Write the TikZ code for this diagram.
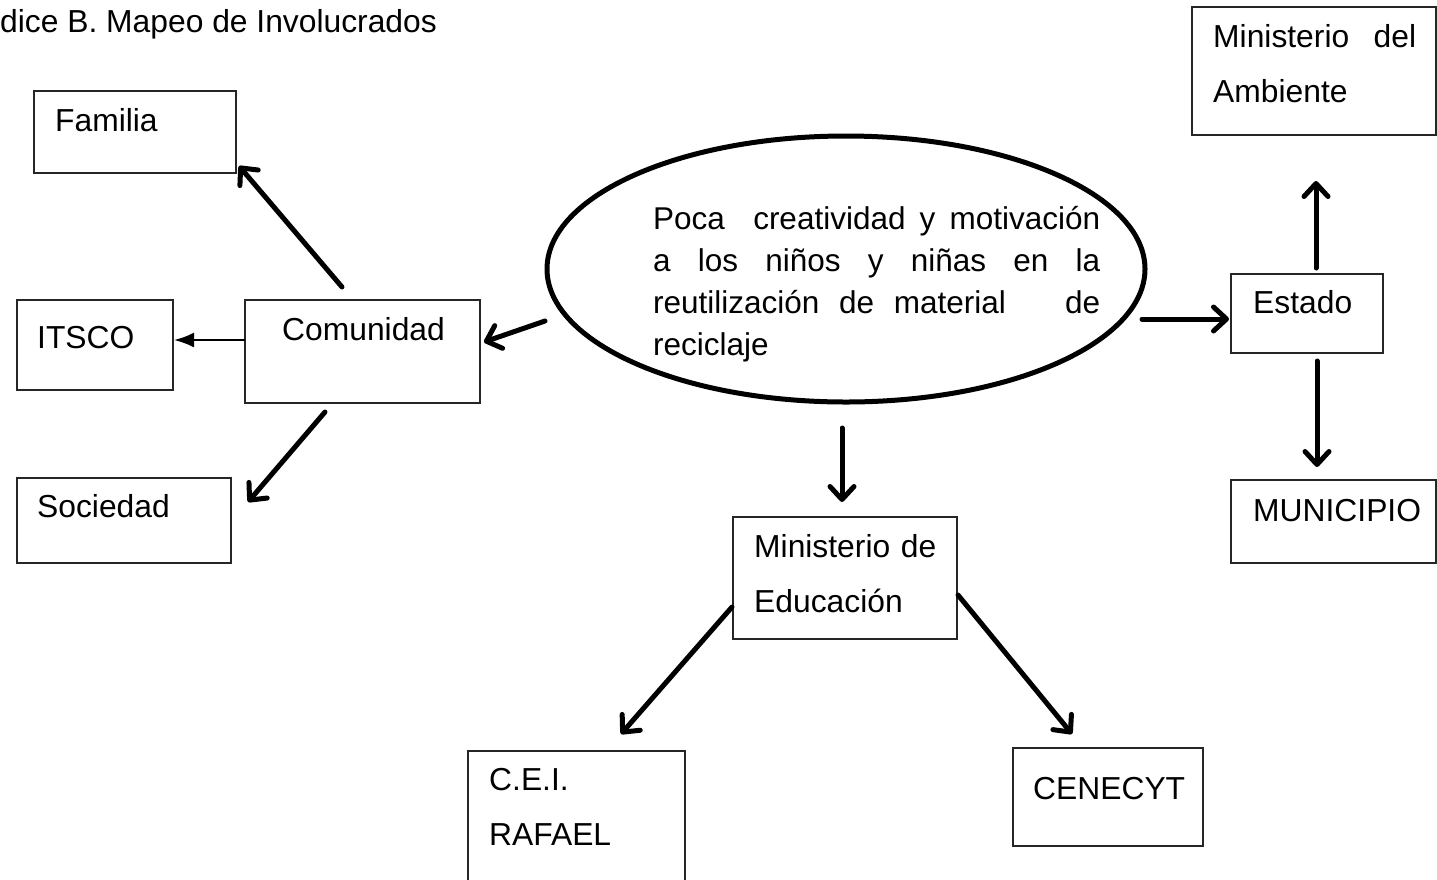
\documentclass[tikz,border=0pt]{standalone}
\usepackage{fontspec}
\setmainfont{Liberation Sans}
\usetikzlibrary{shapes.geometric,arrows.meta}
\begin{document}
\begin{tikzpicture}[x=1pt,y=-1pt,
  box/.style={draw=black!85, line width=1.3pt, rectangle, inner sep=0pt, outer sep=0pt, anchor=north west},
  lbl/.style={anchor=base west, inner sep=0pt, font=\fontsize{31.8}{55}\selectfont},
  bigarrow/.style={line width=5pt, line cap=round, -{Straight Barb[length=13pt,width=24pt,round]}},
  thinarrow/.style={line width=2.2pt, -{Latex[length=20pt,width=15pt]}}]
\useasboundingbox (0,0) rectangle (1437,879);
\hyphenpenalty=10000

% title
\node[lbl] (title) at (0,32) {dice B. Mapeo de Involucrados};

% central problem
\node[draw, ellipse, line width=5pt, inner sep=0pt, minimum width=598, minimum height=266] (prob) at (846,269) {};
\node[anchor=base west, inner sep=0pt, text width=447pt, align=justify,
      font=\fontsize{31.5}{42}\selectfont] (probtext) at (653,229)
  {Poca\ \ creatividad y motivación\linebreak a los niños y niñas en la\linebreak reutilización de material\ \ \ de\linebreak reciclaje};

% boxes
\node[box, minimum width=202, minimum height=82] (familia) at (34,91) {};
\node[box, minimum width=156, minimum height=90] (itsco) at (17,300) {};
\node[box, minimum width=235, minimum height=103] (comunidad) at (245,300) {};
\node[box, minimum width=214, minimum height=85] (sociedad) at (17,478) {};
\node[box, minimum width=244, minimum height=128] (minamb) at (1192,7) {};
\node[box, minimum width=152, minimum height=79] (estado) at (1231,274) {};
\node[box, minimum width=205, minimum height=83] (municipio) at (1231,480) {};
\node[box, minimum width=224, minimum height=122] (minedu) at (733,517) {};
\node[box, minimum width=217, minimum height=140] (cei) at (468,751) {};
\node[box, minimum width=190, minimum height=98] (cenecyt) at (1013,748) {};

% labels
\node[lbl] (familia-t) at (55,131) {Familia};
\node[lbl] (itsco-t) at (37,348) {ITSCO};
\node[lbl] (comunidad-t) at (282,340) {Comunidad};
\node[lbl] (sociedad-t) at (37,517) {Sociedad};
\node[lbl] (estado-t) at (1253,313) {Estado};
\node[lbl] (municipio-t) at (1253,521) {MUNICIPIO};
\node[lbl, text width=203pt, align=justify] (minamb-t) at (1213,47) {Ministerio del\linebreak Ambiente};
\node[lbl, text width=200pt, align=left] (minedu-t) at (754,557) {Ministerio de\\Educación};
\node[lbl, text width=190pt, align=left] (cei-t) at (489,790) {C.E.I.\\RAFAEL};
\node[lbl] (cenecyt-t) at (1033,799) {CENECYT};

% connector ends
\coordinate (com-fam) at (342,287);   \coordinate (fam-in) at (239,166);
\coordinate (com-its) at (245,340);   \coordinate (its-in) at (174,340);
\coordinate (com-soc) at (325,412);   \coordinate (soc-in) at (248,502);
\coordinate (prob-com) at (545,321);  \coordinate (com-in) at (484,342);
\coordinate (prob-est) at (1142,319); \coordinate (est-in) at (1229,319);
\coordinate (est-amb) at (1316,268);  \coordinate (amb-in) at (1316,181);
\coordinate (est-mun) at (1317,361);  \coordinate (mun-in) at (1317,467);
\coordinate (prob-edu) at (842,428);  \coordinate (edu-in) at (842,502);
\coordinate (edu-cei) at (732,607);   \coordinate (cei-in) at (621,734);
\coordinate (edu-cen) at (958,595);   \coordinate (cen-in) at (1072,734);

% connectors
\draw[bigarrow] (com-fam) -- (fam-in);
\draw[thinarrow] (com-its) -- (its-in);
\draw[bigarrow] (com-soc) -- (soc-in);
\draw[bigarrow] (prob-com) -- (com-in);
\draw[bigarrow] (prob-est) -- (est-in);
\draw[bigarrow] (est-amb) -- (amb-in);
\draw[bigarrow] (est-mun) -- (mun-in);
\draw[bigarrow] (prob-edu) -- (edu-in);
\draw[bigarrow] (edu-cei) -- (cei-in);
\draw[bigarrow] (edu-cen) -- (cen-in);
\end{tikzpicture}
\end{document}
